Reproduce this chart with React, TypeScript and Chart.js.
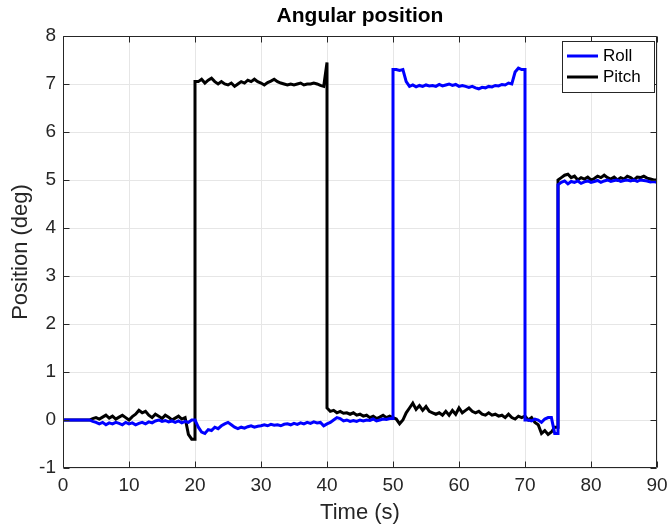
import React, { useEffect, useRef } from "react";
import { Chart, registerables } from "chart.js";

Chart.register(...registerables);

// Time grid: 0 .. 90 s every 0.5 s (181 samples)
const timeStep = 0.5;
const timeEnd = 90;

const xTicks = [0, 10, 20, 30, 40, 50, 60, 70, 80, 90];
const yTicks = [-1, 0, 1, 2, 3, 4, 5, 6, 7, 8];

// Roll (deg), one value per 0.5 s, 10 values per row (5 s)
const rollValues = [
  0, 0, 0, 0, 0, 0, 0, 0, 0, -0.03,
  -0.05, -0.08, -0.05, -0.1, -0.06, -0.08, -0.05, -0.07, -0.1, -0.05,
  -0.08, -0.06, -0.1, -0.07, -0.05, -0.08, -0.04, -0.06, -0.02, 0.0,
  -0.03, -0.01, -0.04, -0.02, -0.05, -0.02, -0.06, -0.03, -0.05, 0.0,
  0.0, -0.15, -0.25, -0.28, -0.2, -0.22, -0.15, -0.18, -0.12, -0.08,
  -0.05, -0.1, -0.15, -0.18, -0.15, -0.17, -0.14, -0.12, -0.15, -0.13,
  -0.12, -0.1, -0.12, -0.09, -0.11, -0.1, -0.12, -0.09, -0.08, -0.1,
  -0.07, -0.09, -0.06, -0.08, -0.05, -0.07, -0.04, -0.06, -0.05, -0.12,
  -0.08, -0.05, 0.0, 0.05, 0.03, -0.02, 0.0, -0.03, -0.01, -0.03,
  0.0, -0.02, 0.0, -0.01, 0.02, -0.02, 0.0, 0.02, 0.01, 0.03,
  7.3, 7.3, 7.28, 7.3, 7.05, 6.95, 6.98, 6.94, 6.97, 6.95,
  6.98, 6.96, 6.97, 6.95, 6.99, 6.96, 6.98, 7.0, 6.97, 6.99,
  6.95, 6.97, 6.95, 6.93, 6.95, 6.92, 6.9, 6.93, 6.92, 6.95,
  6.94, 6.97, 6.96, 6.99, 6.98, 7.02, 7.0, 7.25, 7.33, 7.3,
  0.0, 0.0, -0.02, 0.02, 0.0, -0.05, 0.02, 0.05, 0.05, -0.28,
  4.9, 4.95, 4.98, 4.92, 4.97, 4.95, 4.98, 4.93, 4.96, 4.98,
  4.95, 4.97, 4.99, 4.95, 4.98, 5.0, 4.97, 4.99, 5.0, 4.97,
  4.99, 5.0, 4.98, 5.0, 4.97, 5.0, 4.99, 4.98, 4.96, 4.97,
  4.95,
];

// Pitch (deg), same grid
const pitchValues = [
  0, 0, 0, 0, 0, 0, 0, 0, 0, 0.03,
  0.05, 0.02, 0.06, 0.1, 0.04, 0.08, 0.02, 0.06, 0.1, 0.05,
  0.0, 0.07, 0.12, 0.2, 0.15, 0.18, 0.1, 0.05, 0.12, 0.08,
  0.03, 0.1, 0.06, 0.0, 0.04, 0.08, 0.02, 0.05, -0.3, -0.4,
  7.05, 7.05, 7.1, 7.02, 7.08, 7.12, 7.05, 7.0, 7.05, 7.0,
  6.98, 7.02, 6.95, 7.0, 7.05, 7.02, 7.08, 7.05, 7.1, 7.05,
  7.02, 6.98, 7.03, 7.06, 7.1, 7.05, 7.02, 7.0, 6.98, 7.0,
  6.98, 7.0, 7.02, 6.98, 7.0, 7.0, 7.02, 7.0, 6.97, 6.95,
  0.25, 0.18, 0.2, 0.15, 0.18, 0.14, 0.15, 0.12, 0.15, 0.1,
  0.12, 0.08, 0.1, 0.05, 0.08, 0.03, 0.06, 0.1, 0.05, 0.08,
  0.05, 0.02, -0.08, 0.0, 0.15, 0.25, 0.35, 0.22, 0.3, 0.2,
  0.28, 0.18, 0.15, 0.12, 0.15, 0.1, 0.18, 0.1, 0.2, 0.12,
  0.25, 0.15, 0.2, 0.25, 0.18, 0.15, 0.18, 0.12, 0.1, 0.15,
  0.1, 0.12, 0.08, 0.1, 0.05, 0.12, 0.05, 0.02, 0.08, 0.05,
  0.08, 0.0, 0.05, -0.05, -0.1, -0.28, -0.22, -0.3, -0.25, -0.15,
  5.0, 5.05, 5.1, 5.12, 5.05, 5.08, 5.0, 5.05, 5.02, 5.06,
  5.0, 5.03, 5.08, 5.05, 5.1, 5.05, 5.02, 5.06, 5.0, 5.05,
  5.02, 5.08, 5.05, 5.0, 5.06, 5.05, 5.08, 5.04, 5.02, 5.0,
  5.0,
];

// Vertical steps: time (s) and the value reached just before the step
const rollStepTimes = [50, 70, 75];
const rollStepFrom = [0.03, 7.3, -0.28];
const pitchStepTimes = [20, 40, 75];
const pitchStepFrom = [-0.4, 7.45, -0.15];

const FONT = "'Liberation Sans', Arial, Helvetica, sans-serif";

function buildSeries(values: number[], stepTimes: number[], stepFrom: number[]) {
  const pts: { x: number; y: number }[] = [];
  values.forEach((v, i) => {
    const t = i * timeStep;
    const k = stepTimes.indexOf(t);
    if (k >= 0) pts.push({ x: t, y: stepFrom[k] });
    pts.push({ x: t, y: v });
  });
  return pts;
}

const framePlugin = {
  id: "frame",
  afterDatasetsDraw(chart: any) {
    const { ctx, chartArea: a, scales } = chart;
    ctx.save();
    ctx.strokeStyle = "#262626";
    ctx.lineWidth = 1;
    const L = Math.round(a.left) + 0.5;
    const R = Math.round(a.right) - 0.5;
    const T = Math.round(a.top) + 0.5;
    const B = Math.round(a.bottom) - 0.5;
    ctx.beginPath();
    ctx.rect(L, T, R - L, B - T);
    const tl = 6;
    xTicks.forEach((v) => {
      const px = Math.round(scales.x.getPixelForValue(v)) + 0.5;
      ctx.moveTo(px, B);
      ctx.lineTo(px, B - tl);
      ctx.moveTo(px, T);
      ctx.lineTo(px, T + tl);
    });
    yTicks.forEach((v) => {
      const py = Math.round(scales.y.getPixelForValue(v)) + 0.5;
      ctx.moveTo(L, py);
      ctx.lineTo(L + tl, py);
      ctx.moveTo(R, py);
      ctx.lineTo(R - tl, py);
    });
    ctx.stroke();

    // Title
    ctx.fillStyle = "#000";
    ctx.font = `bold 21px ${FONT}`;
    ctx.textAlign = "center";
    ctx.textBaseline = "middle";
    ctx.fillText("Angular position", (a.left + a.right) / 2, 16);

    // Legend
    const lx = 562, ly = 41, lw = 93, lh = 52;
    ctx.fillStyle = "#fff";
    ctx.fillRect(lx, ly, lw, lh);
    ctx.strokeStyle = "#262626";
    ctx.lineWidth = 1;
    ctx.strokeRect(lx + 0.5, ly + 0.5, lw - 1, lh - 1);
    ctx.font = `17px ${FONT}`;
    ctx.textAlign = "left";
    chart.data.datasets.forEach((ds: any, i: number) => {
      const yy = ly + 15 + i * 21;
      ctx.strokeStyle = ds.borderColor;
      ctx.lineWidth = 3;
      ctx.beginPath();
      ctx.moveTo(lx + 5, yy);
      ctx.lineTo(lx + 36, yy);
      ctx.stroke();
      ctx.fillStyle = "#000";
      ctx.fillText(ds.label, lx + 41, yy);
    });
    ctx.restore();
  },
};

export default function App() {
  const ref = useRef<HTMLCanvasElement>(null);
  useEffect(() => {
    if (!ref.current) return;
    const chart = new Chart(ref.current, {
      type: "line",
      data: {
        datasets: [
          {
            label: "Roll",
            data: buildSeries(rollValues, rollStepTimes, rollStepFrom),
            borderColor: "#0000ff",
            borderWidth: 3,
            pointRadius: 0,
            tension: 0,
            fill: false,
          },
          {
            label: "Pitch",
            data: buildSeries(pitchValues, pitchStepTimes, pitchStepFrom),
            borderColor: "#000000",
            borderWidth: 3,
            pointRadius: 0,
            tension: 0,
            fill: false,
          },
        ],
      },
      options: {
        animation: false,
        responsive: false,
        events: [],
        layout: { padding: { top: 36, right: 11, bottom: 0, left: 0 } },
        plugins: { legend: { display: false }, title: { display: false }, tooltip: { enabled: false } },
        scales: {
          x: {
            type: "linear",
            min: 0,
            max: timeEnd,
            afterFit: (s: any) => { s.height = 59; s.paddingLeft = 0; s.paddingRight = 0; },
            afterBuildTicks: (s: any) => { s.ticks = xTicks.map((v) => ({ value: v })); },
            border: { display: false },
            grid: { color: "#e6e6e6", lineWidth: 1, drawTicks: false },
            ticks: { color: "#262626", padding: 6, maxRotation: 0, font: { family: FONT, size: 19 } },
            title: { display: true, text: "Time (s)", color: "#262626", padding: { top: 0, bottom: 1 }, font: { family: FONT, size: 22 } },
          },
          y: {
            type: "linear",
            min: -1,
            max: 8,
            afterFit: (s: any) => { s.width = 63; s.paddingTop = 0; s.paddingBottom = 0; },
            afterBuildTicks: (s: any) => { s.ticks = yTicks.map((v) => ({ value: v })); },
            border: { display: false },
            grid: { color: "#e6e6e6", lineWidth: 1, drawTicks: false },
            ticks: { color: "#262626", padding: 7, font: { family: FONT, size: 19 } },
            title: { display: true, text: "Position (deg)", color: "#262626", padding: { top: 8, bottom: 0 }, font: { family: FONT, size: 22 } },
          },
        },
      },
      plugins: [framePlugin],
    });
    return () => chart.destroy();
  }, []);
  return (
    <div style={{ position: "fixed", left: 0, top: 0, width: 668, height: 527, background: "#fff" }}>
      <canvas ref={ref} width={668} height={527} style={{ width: 668, height: 527, display: "block" }} />
    </div>
  );
}
